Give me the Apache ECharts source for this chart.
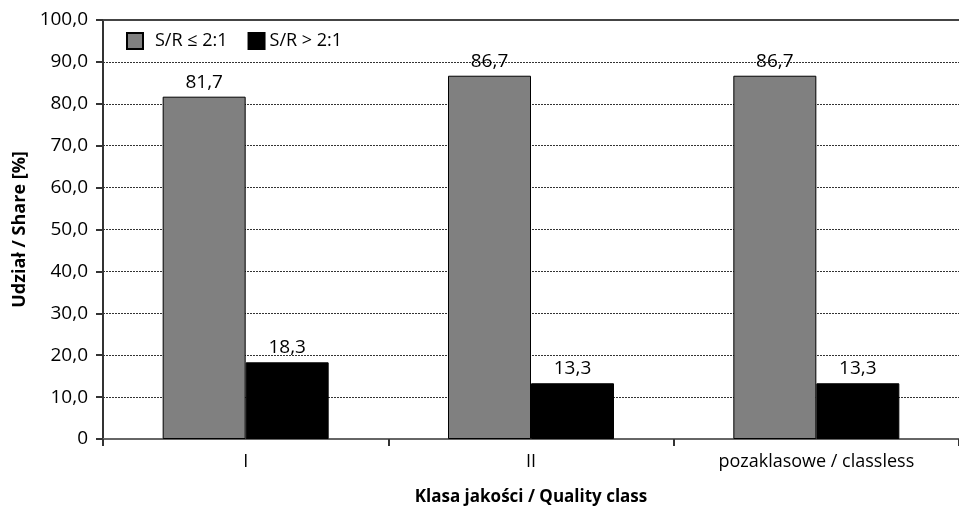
<!DOCTYPE html>
<html>
<head>
<meta charset="utf-8">
<script src="https://cdn.jsdelivr.net/npm/echarts@6/dist/echarts.min.js"></script>
<style>
  html, body { margin: 0; padding: 0; background: #fff; }
  #chart { width: 959px; height: 511px; }
</style>
</head>
<body>
<div id="chart"></div>
<script>
const categories = ['I', 'II', 'pozaklasowe / classless']
const lowRatio = [81.7, 86.7, 86.7]
const highRatio = [18.3, 13.3, 13.3]
const seriesNames = ['S/R ≤ 2:1', 'S/R > 2:1']

const font = '"Open Sans", "DejaVu Sans", sans-serif'
const fmt = (v) => (v === 0 ? '0' : v.toFixed(1).replace('.', ','))

const chart = echarts.init(document.getElementById('chart'))

const barSeries = (name, data, color) => ({
  name,
  type: 'bar',
  data,
  xAxisIndex: 0,
  barWidth: 83,
  barGap: '0%',
  itemStyle: { color, borderColor: '#000', borderWidth: 1 },
  label: {
    show: true,
    position: 'top',
    distance: 5,
    color: '#000',
    fontFamily: font,
    fontSize: 19,
    formatter: (p) => fmt(p.value),
  },
})

chart.setOption({
  animation: false,
  textStyle: { fontFamily: font },
  grid: { left: 103, top: 20, width: 864, height: 424 },
  legend: {
    left: 126,
    top: 32,
    padding: 0,
    itemWidth: 16,
    itemHeight: 16,
    itemGap: 20,
    icon: 'rect',
    textStyle: { color: '#000', fontFamily: font, fontSize: 18 },
    data: [
      { name: seriesNames[0], textStyle: { padding: [0, 0, 0, 7] } },
      { name: seriesNames[1] },
    ],
  },
  xAxis: [
    {
      type: 'category',
      data: categories,
      boundaryGap: true,
      name: 'Klasa jakości / Quality class',
      nameLocation: 'middle',
      nameGap: 50,
      nameTextStyle: { color: '#000', fontWeight: 'bold', fontSize: 17, fontFamily: font },
      axisLine: { lineStyle: { color: '#666', width: 2 } },
      axisTick: { show: true, length: 7, lineStyle: { color: '#333', width: 2 } },
      axisLabel: { color: '#000', fontSize: 18, margin: 14, fontFamily: font },
    },
    {
      type: 'category',
      data: categories,
      position: 'top',
      axisLine: { lineStyle: { color: '#444', width: 2 } },
      axisTick: { show: false },
      axisLabel: { show: false },
    },
  ],
  yAxis: {
    type: 'value',
    min: 0,
    max: 100,
    interval: 10,
    name: 'Udział / Share [%]',
    nameLocation: 'middle',
    nameGap: 73,
    nameTextStyle: { color: '#000', fontWeight: 'bold', fontSize: 18, fontFamily: font },
    axisLine: { show: true, lineStyle: { color: '#333', width: 2 } },
    axisTick: { show: true, length: 7, lineStyle: { color: '#333', width: 2 } },
    axisLabel: { color: '#000', fontSize: 19, margin: 15, fontFamily: font, formatter: fmt },
    splitLine: { lineStyle: { color: '#333', type: [2, 1], width: 1 } },
  },
  series: [
    barSeries(seriesNames[0], lowRatio, '#808080'),
    barSeries(seriesNames[1], highRatio, '#000000'),
  ],
})
</script>
</body>
</html>
